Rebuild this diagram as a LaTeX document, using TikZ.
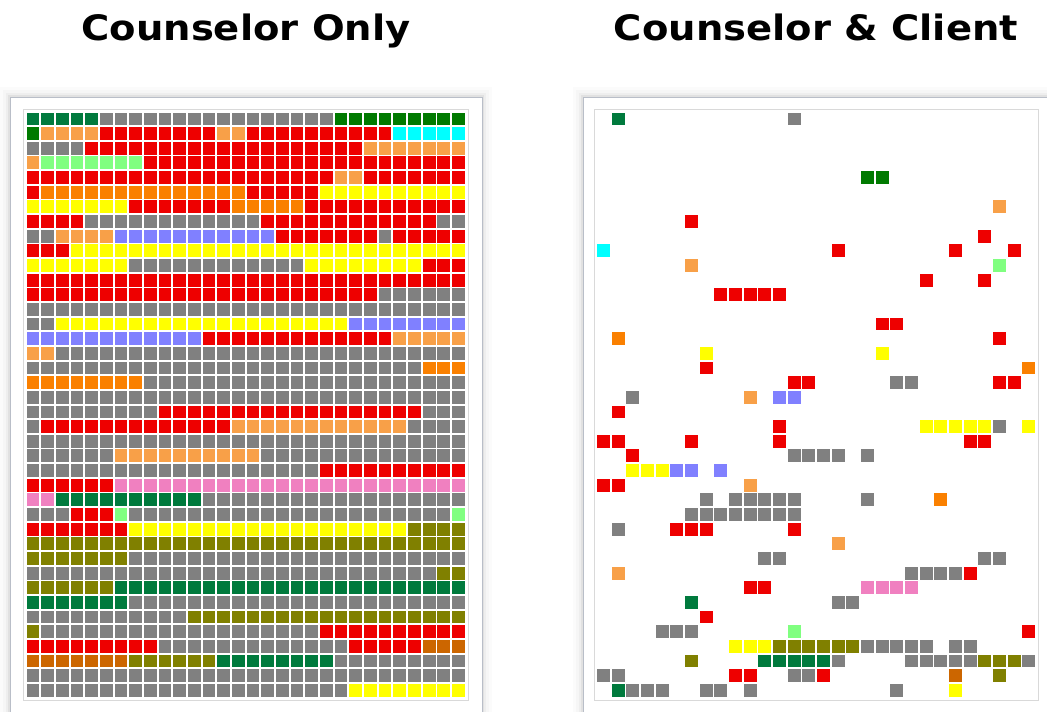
\documentclass[tikz,border=0pt]{standalone}
\usepackage{fontspec}
\newfontfamily\titlefont[FakeStretch=1.1]{DejaVu Sans}
\definecolor{cG}{RGB}{128,128,128}
\definecolor{cR}{RGB}{238,0,0}
\definecolor{cLo}{RGB}{248,160,72}
\definecolor{cO}{RGB}{250,128,0}
\definecolor{cY}{RGB}{255,255,0}
\definecolor{cLg}{RGB}{128,255,128}
\definecolor{cC}{RGB}{0,255,255}
\definecolor{cP}{RGB}{128,128,255}
\definecolor{cK}{RGB}{240,128,192}
\definecolor{cT}{RGB}{0,122,61}
\definecolor{cD}{RGB}{0,122,0}
\definecolor{cV}{RGB}{128,128,0}
\definecolor{cB}{RGB}{204,102,0}
\definecolor{panelline}{RGB}{185,190,200}
\newcount\cellx
\begin{document}
\begin{tikzpicture}[x=1pt, y=-1pt,
    title/.style={font=\titlefont\bfseries\fontsize{35}{40}\selectfont, anchor=base},
    panel/.style={fill=white, draw=panelline, line width=1pt},
    frame/.style={draw=black!15, line width=0.8pt},
    grid/.style={x=14.67pt, y=-14.65pt},
]
\clip (0,0) rectangle (1047,712);
\fill[white] (0,0) rectangle (1047,712);

\node[title] (ONLY) at (246,40) {Counselor Only};
\node[title] (BOTH) at (816,40) {Counselor \& Client};

\foreach \d/\o in {10/0.015,7/0.02,4/0.03,2/0.05} {
  \fill[black, opacity=\o] (10-\d,97-\d) rectangle (482+\d,730);
  \fill[black, opacity=\o] (583-\d,97-\d) rectangle (1060,730);
}
\draw[panel] (10,97) rectangle (482,730);
\draw[panel] (583,97) rectangle (1060,730);
\draw[frame] (23.5,109.5) rectangle (468,700);
\draw[frame] (594,109.5) rectangle (1038,700);

% counselor only
\begin{scope}[shift={(26.5pt,-112.5pt)}, grid]
\foreach \rowspec [count=\r] in {
  {T/5,G/16,D/9}, {D/1,Lo/4,R/8,Lo/2,R/10,C/5}, {G/4,R/19,Lo/7},
  {Lo/1,Lg/7,R/22}, {R/21,Lo/2,R/7}, {R/1,O/14,R/5,Y/10},
  {Y/7,R/7,O/5,R/11}, {R/4,G/12,R/12,G/2}, {G/2,Lo/4,P/11,R/7,G/1,R/5},
  {R/3,Y/27}, {Y/7,G/12,Y/8,R/3}, {R/30}, {R/24,G/6}, {G/30},
  {G/2,Y/20,P/8}, {P/12,R/13,Lo/5}, {Lo/2,G/28}, {G/27,O/3},
  {O/8,G/22}, {G/30}, {G/9,R/18,G/3}, {G/1,R/13,Lo/12,G/4}, {G/30},
  {G/6,Lo/10,G/14}, {G/20,R/10}, {R/6,K/24}, {K/2,T/10,G/18},
  {G/3,R/3,Lg/1,G/22,Lg/1}, {R/7,Y/19,V/4}, {V/30}, {V/7,G/23},
  {G/28,V/2}, {V/6,T/24}, {T/7,G/23}, {G/11,V/19}, {V/1,G/19,R/10},
  {R/9,G/13,R/5,B/3}, {B/7,V/6,T/8,G/9}, {G/30}, {G/22,Y/8}} {
  \global\cellx=0
  \foreach \col/\n in \rowspec {
    \foreach \k in {1,...,\n}
      \fill[fill=c\col] ({\the\cellx+\k-1}, \r-1) rectangle +(0.88,0.88);
    \global\advance\cellx by \n
  }
}
\end{scope}

% counselor and client
\begin{scope}[shift={(597pt,-112.5pt)}, grid]
\foreach \c/\r/\col/\n in {
  2/1/T/1, 14/1/G/1, 19/5/D/2, 28/7/Lo/1, 7/8/R/1, 27/9/R/1,
  1/10/C/1, 17/10/R/1, 25/10/R/1, 29/10/R/1, 7/11/Lo/1, 28/11/Lg/1,
  23/12/R/1, 27/12/R/1, 9/13/R/5, 20/15/R/2, 2/16/O/1, 28/16/R/1,
  8/17/Y/1, 20/17/Y/1, 8/18/R/1, 30/18/O/1,
  14/19/R/2, 21/19/G/2, 28/19/R/2, 3/20/G/1, 11/20/Lo/1, 13/20/P/2,
  2/21/R/1, 13/22/R/1, 23/22/Y/5, 28/22/G/1, 30/22/Y/1,
  1/23/R/2, 7/23/R/1, 13/23/R/1, 26/23/R/2,
  3/24/R/1, 14/24/G/4, 19/24/G/1, 3/25/Y/3, 6/25/P/2, 9/25/P/1,
  1/26/R/2, 11/26/Lo/1, 8/27/G/1, 10/27/G/5, 19/27/G/1, 24/27/O/1,
  7/28/G/8, 2/29/G/1, 6/29/R/3, 14/29/R/1, 17/30/Lo/1,
  12/31/G/2, 27/31/G/2, 2/32/Lo/1, 22/32/G/4, 26/32/R/1,
  11/33/R/2, 19/33/K/4, 7/34/T/1, 17/34/G/2, 8/35/R/1,
  5/36/G/3, 14/36/Lg/1, 30/36/R/1,
  10/37/Y/3, 13/37/V/6, 19/37/G/5, 25/37/G/2,
  7/38/V/1, 12/38/T/5, 17/38/G/1, 22/38/G/5, 27/38/V/3, 30/38/G/1,
  1/39/G/2, 10/39/R/2, 14/39/G/2, 16/39/R/1, 25/39/B/1, 28/39/V/1,
  2/40/T/1, 3/40/G/3, 8/40/G/2, 11/40/G/1, 21/40/G/1, 25/40/Y/1}
  \foreach \k in {1,...,\n}
    \fill[fill=c\col] (\c+\k-2, \r-1) rectangle +(0.88,0.88);
\end{scope}
\end{tikzpicture}
\end{document}
